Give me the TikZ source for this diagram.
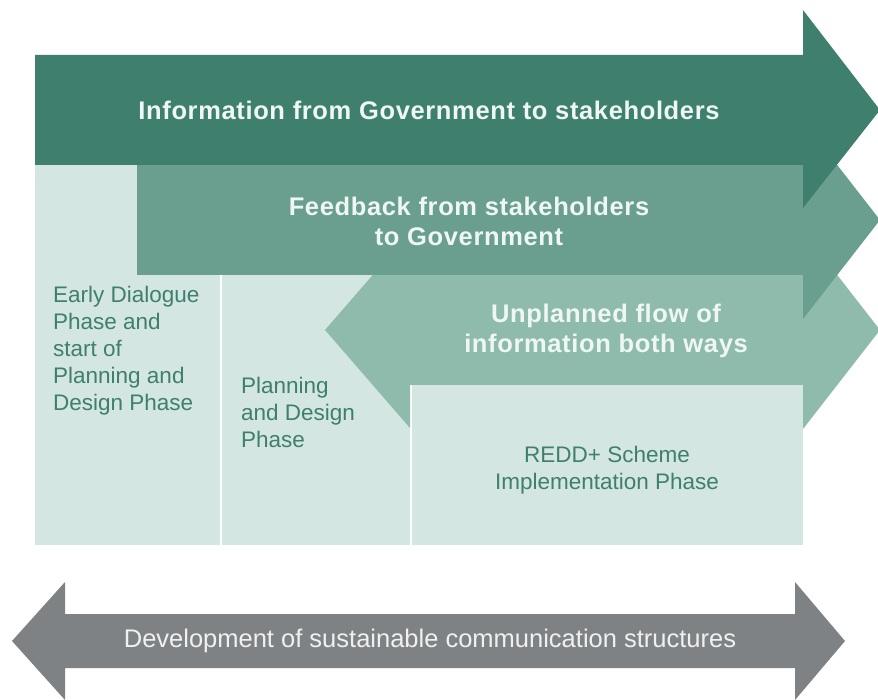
\documentclass[tikz,border=0pt]{standalone}
\usepackage{fontspec}
\setmainfont{Liberation Sans}

\definecolor{darkband}{HTML}{3F7F6D}
\definecolor{midband}{HTML}{6A9F8F}
\definecolor{paleband}{HTML}{8FBBAD}
\definecolor{phasebox}{HTML}{D4E6E2}
\definecolor{greyband}{HTML}{7F8284}
\definecolor{bandfont}{HTML}{EEF7F3}

\begin{document}
\begin{tikzpicture}[
    x = 1pt, y = -1pt,
    bandtext/.style = {text = bandfont,
      font = \fontsize{25.5}{30}\selectfont\bfseries\addfontfeature{LetterSpace=2.5},
      align = center},
    phasetext/.style = {text = darkband,
      font = \fontsize{22.5}{27}\selectfont,
      inner sep = 0pt}
    ]

    \useasboundingbox [fill = white] (0, 0) rectangle (878, 700);

    % phases
    \fill [phasebox] (35, 165) rectangle (220, 545);
    \fill [phasebox] (222, 275) rectangle (410, 545);
    \fill [phasebox] (412, 385) rectangle (803, 545);

    % flows, back to front
    \fill [paleband] (325, 330) -- (410, 232) -- (410, 275) -- (803, 275)
      -- (803, 231) -- (880, 330) -- (803, 429) -- (803, 385) -- (410, 385)
      -- (410, 428) -- cycle;
    \fill [midband] (137, 165) -- (803, 165) -- (803, 121) -- (880, 220)
      -- (803, 319) -- (803, 275) -- (137, 275) -- cycle;
    \fill [darkband] (35, 55) -- (803, 55) -- (803, 10) -- (880, 110)
      -- (803, 208) -- (803, 165) -- (35, 165) -- cycle;

    \fill [greyband] (12, 641) -- (65, 582) -- (65, 614) -- (795, 614)
      -- (795, 582) -- (845, 641) -- (795, 700) -- (795, 668) -- (65, 668)
      -- (65, 700) -- cycle;

    \node at (429, 110) [bandtext, name = govinfo] {Information from Government to stakeholders};
    \node at (469, 221) [bandtext, name = feedback] {Feedback from stakeholders\\to Government};
    \node at (606, 331) [bandtext, name = unplanned] {Unplanned flow of\\information both ways};

    \node at (53, 351) [phasetext, anchor = west, align = left, name = early]
      {Early Dialogue\\Phase and\\start of\\Planning and\\Design Phase};
    \node at (241, 412) [phasetext, anchor = west, align = left, name = planning]
      {Planning\\and Design\\Phase};
    \node at (607, 470) [phasetext, align = center, name = redd]
      {REDD+ Scheme\\Implementation Phase};

    \node at (430, 641) [text = white!88!greyband, font = \fontsize{25.5}{30}\selectfont,
      name = comms] {Development of sustainable communication structures};

  \end{tikzpicture}
\end{document}
